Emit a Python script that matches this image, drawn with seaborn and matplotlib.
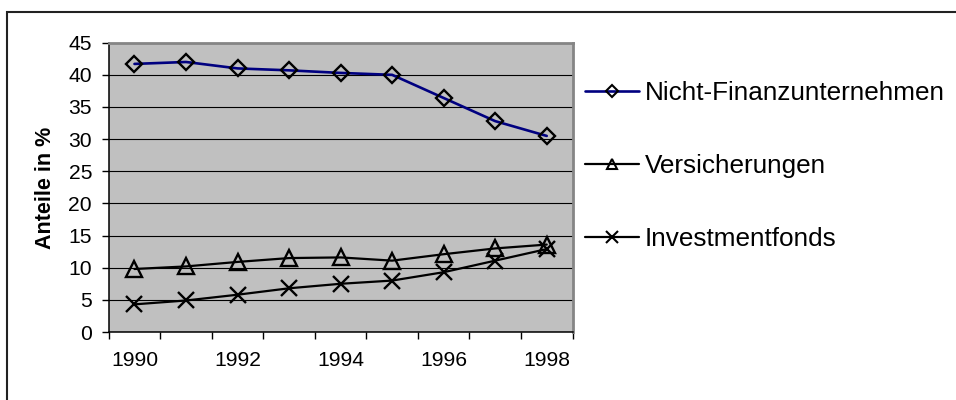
import matplotlib
matplotlib.use("Agg")
import matplotlib.pyplot as plt
from matplotlib.lines import Line2D
from matplotlib.patches import Rectangle
from matplotlib.ticker import FixedLocator, MultipleLocator
import seaborn as sns
import pandas as pd

# Anteile am Aktienbesitz, in %
jahre = [1990, 1991, 1992, 1993, 1994, 1995, 1996, 1997, 1998]
nicht_finanz = [41.7, 42.0, 41.0, 40.7, 40.3, 40.0, 36.4, 32.8, 30.5]
versicherungen = [9.8, 10.2, 10.9, 11.5, 11.6, 11.1, 12.1, 13.0, 13.6]
investmentfonds = [4.3, 4.9, 5.8, 6.8, 7.5, 8.0, 9.3, 11.1, 12.9]
sektoren = ["Nicht-Finanzunternehmen", "Versicherungen", "Investmentfonds"]
x_labels = [1990, 1992, 1994, 1996, 1998]

df = pd.DataFrame({
    "Jahr": jahre * 3,
    "Anteil": nicht_finanz + versicherungen + investmentfonds,
    "Sektor": [s for s in sektoren for _ in jahre],
})

sns.set_theme(style="white")
plt.rcParams["font.family"] = ["Liberation Sans", "DejaVu Sans"]

W, H = 956, 400
fig = plt.figure(figsize=(W / 100, H / 100), dpi=100)
ax = fig.add_axes([108.7 / W, 1 - 332 / H, (572.5 - 108.7) / W, (332 - 42.7) / H])
ax.set_facecolor("#C0C0C0")

styles = {
    sektoren[0]: dict(color="#000080", marker="D", ms=8.5, lw=1.9),
    sektoren[1]: dict(color="black", marker="^", ms=11.5, lw=1.6),
    sektoren[2]: dict(color="black", marker="x", ms=11.5, lw=1.6),
}
for s in sektoren:
    st = styles[s]
    sns.lineplot(data=df[df["Sektor"] == s], x="Jahr", y="Anteil", ax=ax,
                 color=st["color"], marker=st["marker"], ms=st["ms"], lw=st["lw"],
                 mfc="none", mec="black", mew=1.7, zorder=3, label=s, legend=False)

# axes
ax.set_xlim(1989.5, 1998.5)
ax.set_ylim(0, 45)
ax.yaxis.set_major_locator(MultipleLocator(5))
ax.xaxis.set_major_locator(FixedLocator(x_labels))
ax.xaxis.set_minor_locator(FixedLocator([j - 0.5 for j in jahre] + [jahre[-1] + 0.5]))
ax.set_xticklabels([str(v) for v in x_labels])
ax.tick_params(axis="x", which="major", length=0, pad=14, labelsize=15.2, colors="black")
ax.tick_params(axis="x", which="minor", bottom=True, length=5, width=1.0, color="black", direction="out")
ax.tick_params(axis="y", which="major", left=True, length=5, width=1.0, pad=7,
               labelsize=15.2, color="black", labelcolor="black", direction="out")
ax.grid(axis="y", color="black", lw=0.8, zorder=1)
ax.grid(axis="x", visible=False)
ax.set_axisbelow(True)
ax.set_xlabel("")
ax.set_ylabel("")
for side in ("left", "bottom"):
    ax.spines[side].set_color("black")
    ax.spines[side].set_linewidth(1.1)
for side in ("top", "right"):
    ax.spines[side].set_color("#858585")
    ax.spines[side].set_linewidth(2.0)

fig.text(45.7 / W, 1 - 187.5 / H, "Anteile in %", rotation=90, ha="center", va="center",
         fontsize=15.5, fontweight="bold", color="black")

# legend
handles = [Line2D([], [], color=ln.get_color(), lw=ln.get_linewidth(), marker=ln.get_marker(),
                  mfc="none", mec="black", mew=1.5,
                  ms={"D": 6, "^": 7, "x": 8}[ln.get_marker()])
           for ln in ax.lines[:3]]
fig.legend(handles, sektoren, loc="upper left", bbox_to_anchor=(585 / W, 1 - 81 / H),
           frameon=False, fontsize=18.8, borderpad=0, borderaxespad=0,
           handlelength=2.05, handletextpad=0.25, labelspacing=1.88,
           labelcolor="black")

# chart frame
fig.add_artist(Rectangle((7 / W, -0.1), 1.2, 1.1 - 12 / H, transform=fig.transFigure,
                         fill=False, edgecolor="#222222", lw=1.5))

fig.savefig("out.png", dpi=100)
